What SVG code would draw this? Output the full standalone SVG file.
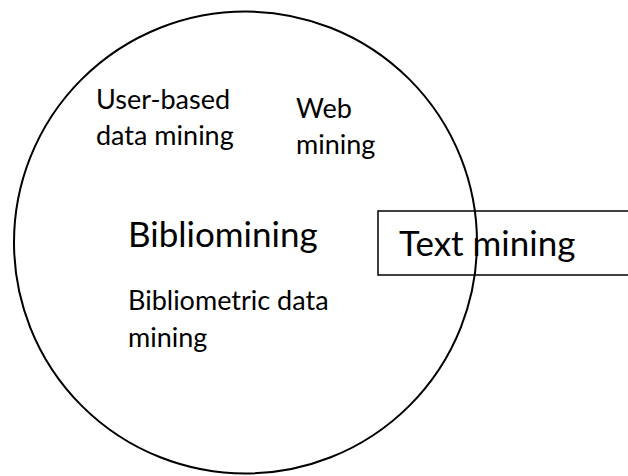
<svg xmlns="http://www.w3.org/2000/svg" width="628" height="476" viewBox="0 0 628 476">
<style>
.shape{fill:none;stroke:#000;stroke-width:2}
.rect{fill:none;stroke:#000;stroke-width:1.5}
.t{font-family:Lato,"Liberation Sans",sans-serif;fill:#000}
.s{font-size:27px}
.l{font-size:35px}
</style>
<rect width="628" height="476" fill="#fff"/>
<g id="text-mining">
<rect class="rect" x="378" y="211" width="260" height="64"/>
<text class="t l" x="399" y="256">Text mining</text>
</g>
<g id="bibliomining">
<ellipse class="shape" cx="245.5" cy="242.5" rx="231.5" ry="231"/>
<text class="t l" x="128" y="247">Bibliomining</text>
</g>
<g id="user-based">
<text class="t s" x="96" y="109">User-based</text>
<text class="t s" x="96" y="145">data mining</text>
</g>
<g id="web-mining">
<text class="t s" x="296" y="118">Web</text>
<text class="t s" x="296" y="154">mining</text>
</g>
<g id="bibliometric">
<text class="t s" x="128" y="310">Bibliometric data</text>
<text class="t s" x="128" y="347">mining</text>
</g>
<g id="connectors"></g>
</svg>
